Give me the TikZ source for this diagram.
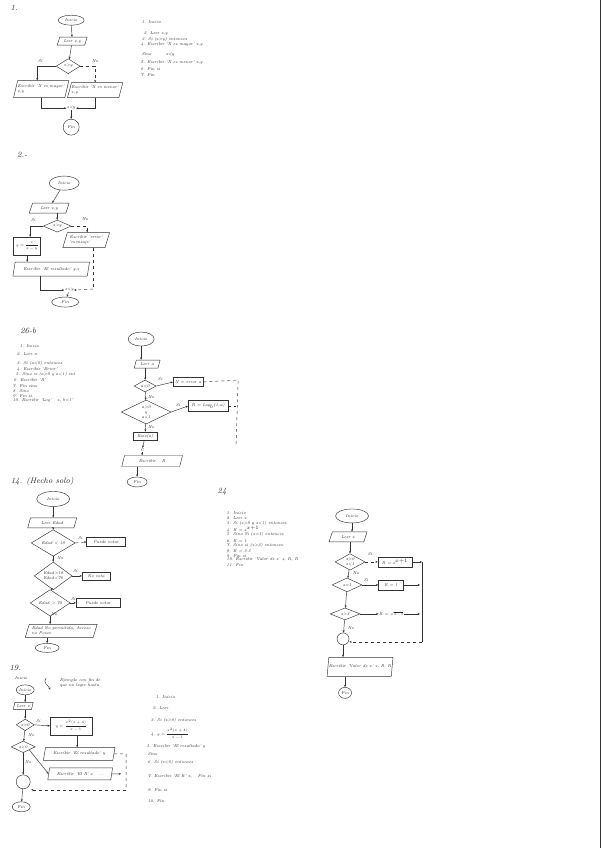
\documentclass[tikz,border=0pt]{standalone}
\usetikzlibrary{shapes.geometric,arrows.meta}
\newcommand{\smm}[1]{\scalebox{0.7}{$\displaystyle #1$}}
\begin{document}
\begin{tikzpicture}[x=1pt,y=-1pt,
  every node/.style={font=\fontsize{4.2}{4.8}\selectfont\itshape, text=black!85, inner sep=0.4pt},
  every path/.style={line width=0.45pt, draw=black!80},
  term/.style={ellipse, draw, inner sep=0pt},
  io/.style={trapezium, trapezium left angle=65, trapezium right angle=115, trapezium stretches=true, draw, inner sep=0pt},
  proc/.style={rectangle, draw, inner sep=0pt},
  dec/.style={diamond, draw, inner sep=0pt, align=center},
  con/.style={circle, draw, inner sep=0pt},
  big/.style={font=\fontsize{8}{9}\selectfont\itshape},
  item/.style={anchor=west},
  flow/.style={-{Stealth[length=2.4pt,width=2pt]}}]
\useasboundingbox (0,0) rectangle (600,848);
\fill[white,draw=none] (0,0) rectangle (600,848);

% ---------------- Chart 1 ----------------
\node[big] (h1) at (14,8) {1.};
\node[term, minimum width=26, minimum height=10] (a1) at (71,20) {Inicio};
\node[io, minimum width=30, minimum height=8] (a2) at (72,41) {Leer x,y};
\node[dec, minimum width=24, minimum height=15] (a3) at (68,66) {x>y};
\coordinate (a3l) at (37,66);
\coordinate (a3r) at (95,66);
\node (a3s) at (40,61) {Si};
\node (a3n) at (95,61) {No};
\node[io, minimum width=48, minimum height=17, align=left] (a4) at (41,89) {Escribir 'X es mayor'\\ x,y};
\node[io, minimum width=46, minimum height=15, align=left] (a5) at (95,90) {Escribir 'X es menor'\\ x,y};
\node (a6) at (71,108) {x<y};
\node[con, minimum size=16] (a7) at (71,127) {Fin};
\draw[flow] (a1) -- (a2);
\draw[flow] (a2) -- (a3);
\draw[flow] (a3.west) -- (a3l) -- (a3l |- a4.north);
\draw[flow,dashed] (a3.east) -- (a3r) -- (a3r |- a5.north);
\draw[flow] (a4.south) |- (a6.west);
\draw[flow] (a5.south) |- (a6.east);
\draw[flow] (a6) -- (a7);
\node[item] (l1a) at (141,22) {1. Inicio};
\node[item] (l1b) at (143,33) {2. Leer x,y};
\node[item] (l1c) at (141,39) {3. Si (x>y) entonces};
\node[item] (l1d) at (140,44) {4. Escribir 'X es mayor' x,y};
\node[item] (l1e) at (141,54) {Sino \qquad\quad x<y};
\node[item] (l1f) at (140,62) {5. Escribir 'X es menor' x,y};
\node[item] (l1g) at (140,69) {6. Fin si};
\node[item] (l1h) at (140,75) {7. Fin.};

% ---------------- Chart 2 ----------------
\node[big] (h2) at (22,155) {2.-};
\node[term, minimum width=30, minimum height=14] (b1) at (64,183) {Inicio};
\node[io, minimum width=40, minimum height=10] (b2) at (49,208) {Leer x,y};
\node[dec, minimum width=28, minimum height=12] (b3) at (57,226) {x>y};
\coordinate (b3l) at (30,226);
\coordinate (b3r) at (87,226);
\node (b3s) at (33,220) {Si};
\node (b3n) at (85,219) {No};
\node[proc, minimum width=27, minimum height=18] (b4) at (27,246) {\smm{y=\frac{x}{x-y}}};
\node[io, minimum width=77, minimum height=14] (b5) at (51,269) {Escribir 'El resultado' y,z};
\node[io, minimum width=47, minimum height=15, align=left] (b6) at (86,240) {Escribir 'error'\\ 'mensaje'};
\coordinate (b6d) at (93,289);
\node (b7) at (69,290) {x<y};
\node[term, minimum width=27, minimum height=10] (b8) at (65,302) {Fin};
\draw[flow] (b1) -- (b2);
\draw[flow] (b2.south -| b3.north) -- (b3);
\draw[flow] (b3.west) -- (b3l) -- (b3l |- b4.north);
\draw[flow,dashed] (b3.east) -- (b3r) -- (b3r |- b6.north);
\draw[flow] (b4.south) -- (b4.south |- b5.north);
\draw[dashed] (b6.south -| b6d) -- (b6d);
\draw[flow,dashed] (b6d) -- (b7.east);
\draw[flow] (b5.south -| 40,0) |- (b7.west);
\draw[flow] (b7) -- (b8);

% ---------------- Chart 3 ----------------
\node[big] (h3) at (28,331) {26-b};
\node[item] (l3a) at (19,346) {1. Inicio};
\node[item] (l3b) at (16,354) {2. Leer a};
\node[item] (l3c) at (16,363) {3. Si (a<0) entonces};
\node[item] (l3d) at (16,369) {4. Escribir 'Error'};
\node[item] (l3e) at (15,374) {5. Sino si (a>0 y a<1) ent};
\node[item] (l3f) at (13,380) {6. Escribir 'R'};
\node[item] (l3g) at (12,386) {7. Fin sino};
\node[item] (l3h) at (12,391) {8. Sino};
\node[item] (l3i) at (12,396) {9. Fin si};
\node[item] (l3j) at (12,400) {10. Escribir 'Log' \quad x, b=1'};
\node[term, minimum width=26, minimum height=14] (c1) at (141,339) {Inicio};
\node[io, minimum width=26, minimum height=8] (c2) at (147,364) {Leer a};
\node[dec, minimum width=22, minimum height=10] (c3) at (145,386) {a<0};
\node (c3s) at (160,379) {Si};
\node[proc, minimum width=30, minimum height=9] (c4) at (188,382) {N = error a};
\node[dec, minimum width=50, minimum height=24] (c5) at (146,412) {a>0\\ y\\ a<1};
\node (c5a) at (151,397) {No};
\node (c5s) at (178,405) {Si};
\node[proc, minimum width=40, minimum height=11] (c6) at (208,406) {R = Log$_b$(1-a)};
\node (c5n) at (151,427) {No};
\node[proc, minimum width=24, minimum height=8] (c7) at (145,436) {Raiz(a)};
\node (c8) at (142,450) {C};
\node[io, minimum width=61, minimum height=11] (c9) at (152,461) {Escribir \quad R};
\node[term, minimum width=20, minimum height=10] (c10) at (137,482) {Fin};
\coordinate (c4r) at (238,380);
\coordinate (c4d) at (236,445);
\draw[flow] (c1) -- (c1 |- c2.north);
\draw[flow] (c2.south -| c3.north) -- (c3);
\draw[flow] (c3.east) -- (c4.west);
\draw[dashed] (c4.east) -- (c4r) -- (c4d);
\draw[dashed] (c6.east) -- (c6.east -| c4d);
\draw[flow] (c3) -- (c5);
\draw[flow] (c5.east) -- (c6.west);
\draw[flow] (c5) -- (c7);
\draw[flow] (c7) -- (c8);
\draw[flow] (c8) -- (c8 |- c9.north);
\draw[flow] (c9.south -| c10.north) -- (c10);

% ---------------- Chart 4 ----------------
\node[big] (h4) at (42,482) {14. (Hecho solo)};
\node[term, minimum width=33, minimum height=15] (d1) at (53,499) {Inicio};
\node[io, minimum width=49, minimum height=10] (d2) at (52,523) {Leer Edad};
\node[dec, minimum width=44, minimum height=18] (d3) at (53,543) {Edad < 18};
\node (d3s) at (80,538) {Si};
\node[proc, minimum width=39, minimum height=9] (d4) at (106,542) {Puede votar};
\node (d3n) at (60,558) {No};
\node[dec, minimum width=38, minimum height=18] (d5) at (53,576) {Edad>18\\ Edad<70};
\node (d5s) at (75,571) {Si};
\node[proc, minimum width=28, minimum height=8] (d6) at (96,576) {No vota};
\node[dec, minimum width=40, minimum height=16] (d7) at (50,603) {Edad > 70};
\node (d7s) at (73,599) {Si};
\node[proc, minimum width=44, minimum height=9] (d8) at (98,603) {Puede votar};
\node (d7n) at (54,614) {No};
\node[io, minimum width=72, minimum height=13, align=left] (d9) at (61,631) {Edad No permitida, Acceso\\ no Posee};
\node[term, minimum width=24, minimum height=9] (d10) at (47,648) {Fin};
\draw[flow] (d1) -- (d1 |- d2.north);
\draw[flow] (d2.south -| d3.north) -- (d3);
\draw[flow,dashed] (d3.east) -- (d4.west);
\draw[flow] (d3) -- (d5);
\draw[flow] (d5.east) -- (d6.west);
\draw[flow] (d5) -- (d7);
\draw[flow] (d7.east) -- (d8.west);
\draw[flow] (d7.south) -- (d7.south |- d9.north);
\draw[flow] (d9.south -| d10.north) -- (d10);

% ---------------- Chart 5 ----------------
\node[big] (h5) at (222,492) {24};
\node[item] (l5a) at (226,513) {1. Inicio};
\node[item] (l5b) at (226,518) {2. Leer x};
\node[item] (l5c) at (226,523) {3. Si (x>0 y x<1) entonces};
\node[item] (l5d) at (226,529) {4. R = x$^{x+1}$};
\node[item] (l5e) at (226,535) {5. Sino Si (x=1) entonces};
\node[item] (l5f) at (226,541) {6. R = 1};
\node[item] (l5g) at (226,546) {7. Sino si (x>3) entonces};
\node[item] (l5h) at (226,551) {8. R = 3.3};
\node[item] (l5i) at (226,556) {9. Fin si};
\node[item] (l5j) at (226,560) {10. Escribir 'Valor de x' x, R, R};
\node[item] (l5k) at (226,565) {11. Fin};
\node[term, minimum width=33, minimum height=14] (e1) at (352,516) {Inicio};
\node[io, minimum width=38, minimum height=10] (e2) at (348,537) {Leer x};
\node[dec, minimum width=30, minimum height=14] (e3) at (350,562) {x>0\\ x<1};
\node (e3s) at (370,554) {Si};
\node[proc, minimum width=34, minimum height=10] (e4) at (395,562) {R = x$^{x+1}$};
\node (e3n) at (356,573) {No};
\node[dec, minimum width=30, minimum height=14] (e5) at (347,585) {x=1};
\node (e5s) at (366,580) {Si};
\node[proc, minimum width=25, minimum height=10] (e6) at (391,585) {R = 1};
\node[dec, minimum width=30, minimum height=12] (e7) at (345,614) {x>3};
\node (e8) at (391,614) {R = \smm{\sqrt{x\cdot 3}}};
\node (e7n) at (351,628) {No};
\node[con, minimum size=12] (e9) at (343,639) {};
\node[io, minimum width=65, minimum height=19] (e10) at (360,667) {Escribir 'Valor de x' x, R, R};
\node[term, minimum width=13, minimum height=11] (e11) at (345,693) {Fin};
\coordinate (e4r) at (422,562);
\coordinate (e6r) at (420,585);
\coordinate (e8r) at (420,614);
\coordinate (ebot) at (422,642);
\draw[flow] (e1) -- (e1 |- e2.north);
\draw[flow] (e2.south -| e3.north) -- (e3);
\draw[flow,dashed] (e3.east) -- (e4.west);
\draw[flow] (e4.east) -- (e4r);
\draw (e4r) -- (ebot);
\draw[flow] (e3) -- (e5);
\draw[flow] (e5.east) -- (e6.west);
\draw[flow] (e6.east) -- (e6r);
\draw[flow] (e5) -- (e7);
\draw[flow] (e7.east) -- (e8.west);
\draw[flow] (e8.east) -- (e8r);
\draw[flow] (e7) -- (e9);
\draw[flow,dashed] (ebot) -- (ebot -| e9.east);
\draw[flow] (e9.south) -- (e9.south |- e10.north);
\draw[flow] (e10.south -| e11.north) -- (e11);

% ---------------- Chart 6 ----------------
\node[big] (h6) at (15,668) {19.};
\node (f0) at (21,678) {Inicio};
\node[align=left] (f0n) at (80,683) {Ejemplo con fin de\\ que no logre hasta};
\coordinate (f0a) at (46,678);
\coordinate (f0b) at (50,690);
\draw[flow] (f0a) .. controls (42,683) and (48,685) .. (f0b);
\node[term, minimum width=18, minimum height=10] (f1) at (25,690) {Inicio};
\node[io, minimum width=20, minimum height=7] (f2) at (23,706) {Leer x};
\node[dec, minimum width=18, minimum height=8] (f3) at (25,725) {x>0};
\node (f3s) at (38,721) {Si};
\node[proc, minimum width=42, minimum height=18] (f4) at (71,726) {\smm{y=\frac{x^2(x+4)}{x-1}}};
\node[io, minimum width=72, minimum height=13] (f5) at (79,754) {Escribir 'El resultado' y};
\node (f3n) at (31,735) {No};
\node[dec, minimum width=24, minimum height=10] (f6) at (23,747) {x<0};
\node[io, minimum width=65, minimum height=12] (f7) at (80,774) {Escribir 'El R' x \quad ...};
\node (f6n) at (28,762) {No};
\node[con, minimum size=14] (f8) at (23,782) {};
\node[term, minimum width=18, minimum height=10] (f9) at (21,807) {Fin};
\coordinate (f5r) at (126,754);
\coordinate (f5d) at (126,790);
\coordinate (f7r) at (121,774);
\coordinate (f8r) at (31,790);
\draw[flow] (f1) -- (f1 |- f2.north);
\draw[flow] (f2.south -| f3.north) -- (f3);
\draw[flow] (f3.east) -- (f4.west);
\draw[flow] (f4.south -| 77,0) -- (77,747.5);
\draw[flow] (f3) -- (f6);
\draw[flow] (f6.south east) -- (f7.west);
\draw[flow] (f7.east) -- (f7r);
\draw[dashed] (f5.east) -- (f5r) -- (f5d);
\draw[flow,dashed] (f5d) -- (f8r);
\draw[flow] (f6) -- (f8);
\draw[flow] (f8) -- (f9);
\node[item] (l6a) at (155,697) {1. Inicio};
\node[item] (l6b) at (152,708) {2. Leer};
\node[item] (l6c) at (150,721) {3. Si (x>0) entonces};
\node[item] (l6d) at (150,734) {4. \smm{y=\frac{x^2(x+4)}{x-1}}};
\node[item] (l6e) at (146,747) {5. Escribir 'El resultado' y};
\node[item] (l6f) at (147,754) {Sino};
\node[item] (l6g) at (147,763) {6. Si (x<0) entonces};
\node[item] (l6h) at (147,777) {7. Escribir 'El R' x, \quad Fin si};
\node[item] (l6i) at (147,790) {9. Fin si};
\node[item] (l6j) at (147,801) {10. Fin.};
\end{tikzpicture}
\end{document}
